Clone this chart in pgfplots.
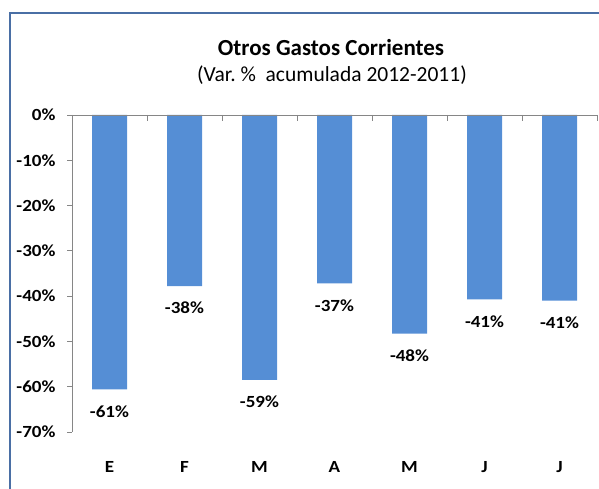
\documentclass[border=0pt]{standalone}
\usepackage{pgfplots}
\pgfplotsset{compat=1.18}
\usepackage{fontspec}
\setmainfont{Carlito}
\newfontfamily\lblfont{Carlito}[FakeStretch=1.12]
\definecolor{barblue}{HTML}{558ED5}
\definecolor{axgray}{HTML}{868686}
\definecolor{framecol}{HTML}{4A6FA5}
\begin{document}
\begin{tikzpicture}
\useasboundingbox (0,0) rectangle (599pt,489pt);
\draw[framecol, line width=1.3pt] (10pt,0pt) -- (10pt,476pt) -- (599pt,476pt);
\node[font=\fontsize{23}{27}\selectfont\bfseries] at (331pt,441pt) {Otros Gastos Corrientes};
\node[font=\fontsize{21.5}{25}\selectfont] at (332pt,414pt) {(Var.~\%~~acumulada 2012-2011)};
\begin{axis}[
  at={(72pt,57pt)}, anchor=south west,
  width=525pt, height=317pt, scale only axis,
  xmin=-0.5, xmax=6.5, ymin=-70, ymax=0,
  clip=false,
  axis x line*=bottom, axis y line*=left,
  x axis line style={draw=none},
  y axis line style={axgray, -, line width=0.8pt},
  xtick={0,1,2,3,4,5,6},
  xticklabels={E,F,M,A,M,J,J},
  xtick style={draw=none},
  xticklabel style={font=\lblfont\fontsize{17}{19}\selectfont\bfseries, anchor=center, yshift=-30pt},
  ytick={-70,-60,-50,-40,-30,-20,-10,0},
  yticklabels={-70\%,-60\%,-50\%,-40\%,-30\%,-20\%,-10\%,0\%},
  yticklabel style={font=\lblfont\fontsize{17}{19}\selectfont\bfseries, xshift=-8pt},
  tick align=outside,
  major tick length=5pt,
  ytick style={axgray, line width=0.8pt},
  ybar, bar width=35pt,
  nodes near coords,
  point meta=explicit symbolic,
  every node near coord/.append style={font=\lblfont\fontsize{17}{19}\selectfont\bfseries, anchor=center, yshift=-22pt},
]
\addplot[fill=barblue, draw=none] coordinates {
  (0,-60.6) [-61\%]
  (1,-37.8) [-38\%]
  (2,-58.5) [-59\%]
  (3,-37.2) [-37\%]
  (4,-48.3) [-48\%]
  (5,-40.7) [-41\%]
  (6,-41.0) [-41\%]
};
\draw[axgray, line width=0.8pt] (axis cs:-0.5,0) -- (axis cs:6.5,0);
\pgfplotsinvokeforeach{-0.5,0.5,1.5,2.5,3.5,4.5,5.5,6.5}{
  \draw[axgray, line width=0.8pt] (axis cs:#1,0) -- ([yshift=-6pt]axis cs:#1,0);
}
\end{axis}
\end{tikzpicture}
\end{document}
